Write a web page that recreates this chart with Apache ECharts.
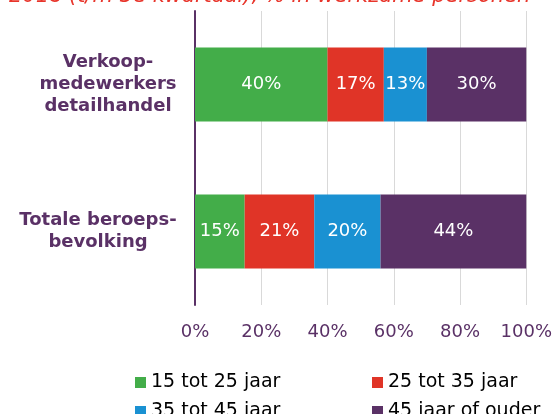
<!DOCTYPE html>
<html>
<head>
<meta charset="utf-8">
<script src="https://cdn.jsdelivr.net/npm/echarts@6/dist/echarts.min.js"></script>
<style>
html, body { margin: 0; padding: 0; background: #fff; }
#main { width: 555px; height: 414px; }
</style>
</head>
<body>
<div id="main"></div>
<script>
var chart = echarts.init(document.getElementById('main'));

// categorieen en waarden (% werkzame personen)
var categories = ['Verkoop-\nmedewerkers\ndetailhandel', 'Totale beroeps-\nbevolking'];
var seriesNames = ['15 tot 25 jaar', '25 tot 35 jaar', '35 tot 45 jaar', '45 jaar of ouder'];
var age15to25 = [40, 15];
var age25to35 = [17, 21];
var age35to45 = [13, 20];
var age45plus = [30, 44];
var xTicks = [0, 20, 40, 60, 80, 100];

var colors = ['#43ad49', '#e03427', '#1a91d2', '#5a3166'];
var purple = '#5a3166';
var font = 'DejaVu Sans';

function makeSeries(name, values, color) {
    return {
        name: name,
        type: 'bar',
        stack: 'total',
        barWidth: 74,
        itemStyle: { color: color },
        label: {
            show: true,
            position: 'inside',
            color: '#fff',
            fontFamily: font,
            fontSize: 18,
            formatter: '{c}%'
        },
        data: values
    };
}

// een legenda per item, 2 x 2 raster
function makeLegend(name, left, top) {
    return {
        data: [name],
        left: left,
        top: top,
        itemWidth: 11,
        itemHeight: 11,
        itemGap: 5,
        icon: 'rect',
        textStyle: { color: '#000', fontFamily: font, fontSize: 19 }
    };
}

var option = {
    animation: false,
    title: {
        text: '2018 (t/m 3e kwartaal), % in werkzame personen',
        left: 4,
        top: -19,
        textStyle: {
            color: '#e8352b',
            fontStyle: 'italic',
            fontWeight: 'normal',
            fontFamily: font,
            fontSize: 21
        }
    },
    grid: { left: 195, right: 26, top: 11, bottom: 109 },
    legend: [
        makeLegend(seriesNames[0], 130, 368),
        makeLegend(seriesNames[1], 367, 368),
        makeLegend(seriesNames[2], 130, 397),
        makeLegend(seriesNames[3], 367, 397)
    ],
    xAxis: {
        type: 'value',
        min: xTicks[0],
        max: xTicks[xTicks.length - 1],
        interval: 20,
        axisLine: { show: false },
        axisTick: { show: false },
        splitLine: { lineStyle: { color: '#d9d9d9', width: 1 } },
        axisLabel: {
            color: purple,
            fontFamily: font,
            fontSize: 18,
            margin: 18,
            formatter: '{value}%'
        }
    },
    yAxis: {
        type: 'category',
        inverse: true,
        data: categories,
        axisLine: { lineStyle: { color: purple, width: 2 } },
        axisTick: { show: false },
        axisLabel: {
            color: purple,
            fontFamily: font,
            fontSize: 18,
            fontWeight: 'bold',
            lineHeight: 22,
            align: 'center',
            margin: 87,
            formatter: function (value, index) {
                return index === 1 ? '{b|' + value + '}' : '{a|' + value + '}';
            },
            rich: {
                a: { color: purple, fontFamily: font, fontSize: 18, fontWeight: 'bold', lineHeight: 22 },
                b: { color: purple, fontFamily: font, fontSize: 18, fontWeight: 'bold', lineHeight: 22, padding: [0, 20, 0, 0] }
            }
        }
    },
    series: [
        makeSeries(seriesNames[0], age15to25, colors[0]),
        makeSeries(seriesNames[1], age25to35, colors[1]),
        makeSeries(seriesNames[2], age35to45, colors[2]),
        makeSeries(seriesNames[3], age45plus, colors[3])
    ]
};

chart.setOption(option);
</script>
</body>
</html>
